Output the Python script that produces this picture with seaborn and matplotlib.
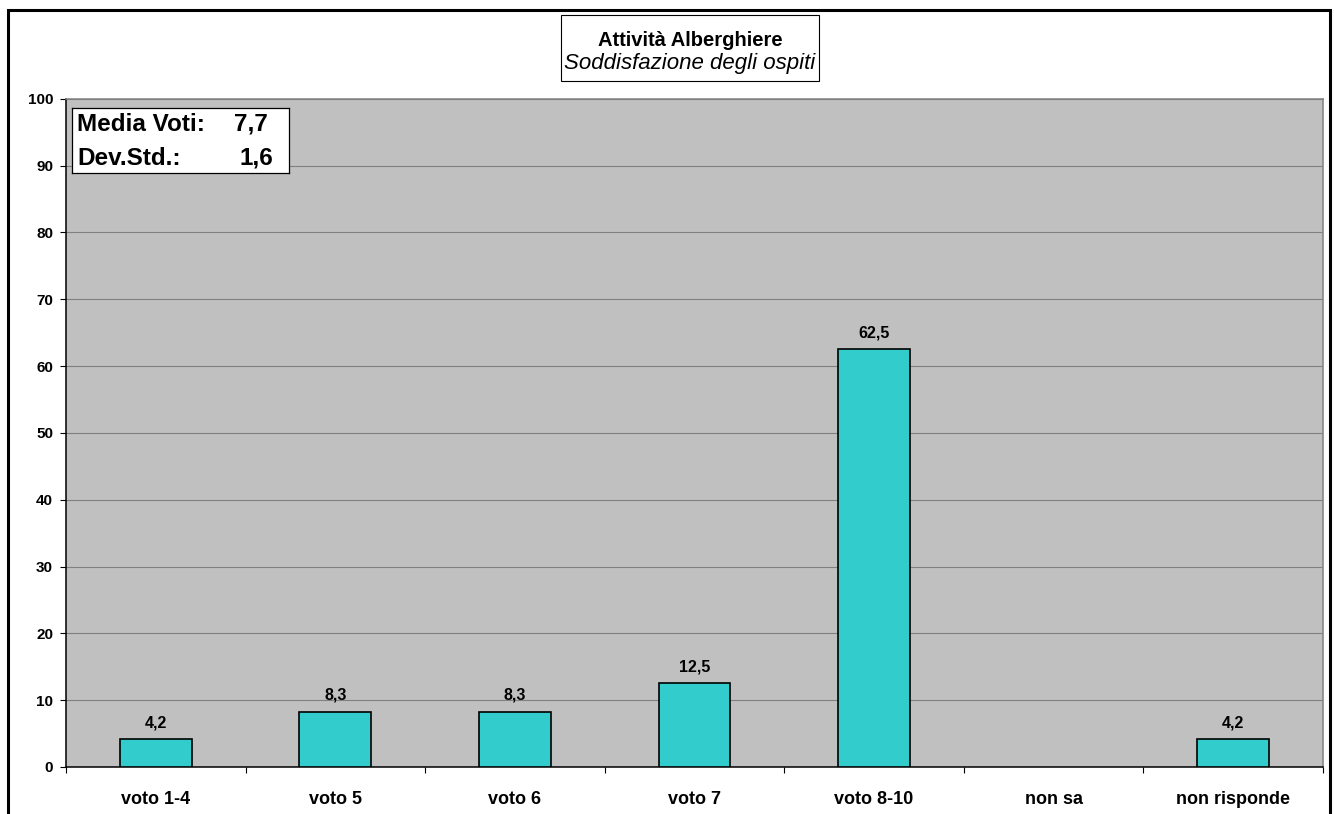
import numpy as np
import pandas as pd
import matplotlib
matplotlib.use("Agg")
import matplotlib.pyplot as plt
from matplotlib.patches import Rectangle
import seaborn as sns

# data
categories = ['voto 1-4', 'voto 5', 'voto 6', 'voto 7', 'voto 8-10', 'non sa', 'non risponde']
percent = [4.2, 8.3, 8.3, 12.5, 62.5, np.nan, 4.2]
media_voti = 7.7
dev_std = 1.6

df = pd.DataFrame({'cat': categories, 'pct': percent})

sns.set_style("white")
plt.rcParams['font.family'] = ['Liberation Sans', 'DejaVu Sans']
plt.rcParams['text.color'] = 'black'
plt.rcParams['xtick.color'] = 'black'
plt.rcParams['ytick.color'] = 'black'

W, H = 1334, 814
fig = plt.figure(figsize=(W / 100, H / 100), dpi=100)
ax = fig.add_axes([66 / W, 47 / H, (1323 - 66) / W, (767 - 98.7) / H])
ax.set_facecolor('#C0C0C0')

sns.barplot(data=df, x='cat', y='pct', order=categories, width=0.4,
            color='#33CCCC', edgecolor='black', linewidth=1.2, saturation=1,
            errorbar=None, ax=ax, zorder=3)

# value labels
for i, v in enumerate(percent):
    if not np.isnan(v):
        ax.annotate(f"{v:.1f}".replace('.', ','), (i, v), xytext=(0, 8.5),
                    textcoords='offset points', ha='center', va='baseline',
                    fontsize=11.5, fontweight='bold', color='black')

ax.set_ylim(0, 100)
ax.set_xlim(-0.5, len(categories) - 0.5)
ax.set_yticks(range(0, 101, 10))
ax.yaxis.grid(True, color='#808080', linewidth=0.8, zorder=0)
ax.set_axisbelow(True)
ax.set_xlabel('')
ax.set_ylabel('')

ax.set_xticks(range(len(categories)))
ax.set_xticklabels(categories, fontsize=13, fontweight='bold')
ax.set_xticks(np.arange(-0.5, len(categories), 1), minor=True)
ax.tick_params(axis='x', which='major', bottom=True, length=0, pad=17, labelcolor='black')
ax.tick_params(axis='x', which='minor', bottom=True, length=4.5, width=0.8, color='black', direction='out')
ax.tick_params(axis='y', left=True, length=4.3, width=0.8, color='black', direction='out', pad=5,
               labelcolor='black')
for lab in ax.get_yticklabels():
    lab.set_fontsize(11)
    lab.set_fontweight('bold')

for side in ['left', 'bottom']:
    ax.spines[side].set_color('black')
    ax.spines[side].set_linewidth(1.1)
for side in ['top', 'right']:
    ax.spines[side].set_color('#808080')
    ax.spines[side].set_linewidth(1.1)

# stats box
stats = fig.add_axes([72 / W, 1 - 173 / H, (289 - 72) / W, (173 - 108) / H])
stats.set_xticks([])
stats.set_yticks([])
stats.set_facecolor('white')
stats.set_xlim(72, 289)
stats.set_ylim(173, 108)
for s in stats.spines.values():
    s.set_color('black')
    s.set_linewidth(0.9)
stats.text(77, 131, 'Media Voti:', fontsize=17.5, fontweight='bold', va='baseline', ha='left')
stats.text(268, 131, f"{media_voti:.1f}".replace('.', ','), fontsize=17.5, fontweight='bold', va='baseline', ha='right')
stats.text(77, 165, 'Dev.Std.:', fontsize=17.5, fontweight='bold', va='baseline', ha='left')
stats.text(273, 165, f"{dev_std:.1f}".replace('.', ','), fontsize=17.5, fontweight='bold', va='baseline', ha='right')

# title box
fig.patches.append(Rectangle((561 / W, 1 - 81 / H), (819 - 561) / W, (81 - 15) / H,
                             transform=fig.transFigure, facecolor='white', edgecolor='black', linewidth=0.8))
fig.text(690 / W, 1 - 46 / H, 'Attività Alberghiere', ha='center', va='baseline',
         fontsize=14.5, fontweight='bold')
fig.text(690 / W, 1 - 69 / H, 'Soddisfazione degli ospiti', ha='center', va='baseline',
         fontsize=16, style='italic')

# outer border of the chart
fig.patches.append(Rectangle((7.5 / W, -0.05), (1329.5 - 7.5) / W, 1.05 - 9.5 / H,
                             transform=fig.transFigure, facecolor='none', edgecolor='black',
                             linewidth=2.2, clip_on=False))

fig.savefig('out.png', dpi=100, facecolor='white')
